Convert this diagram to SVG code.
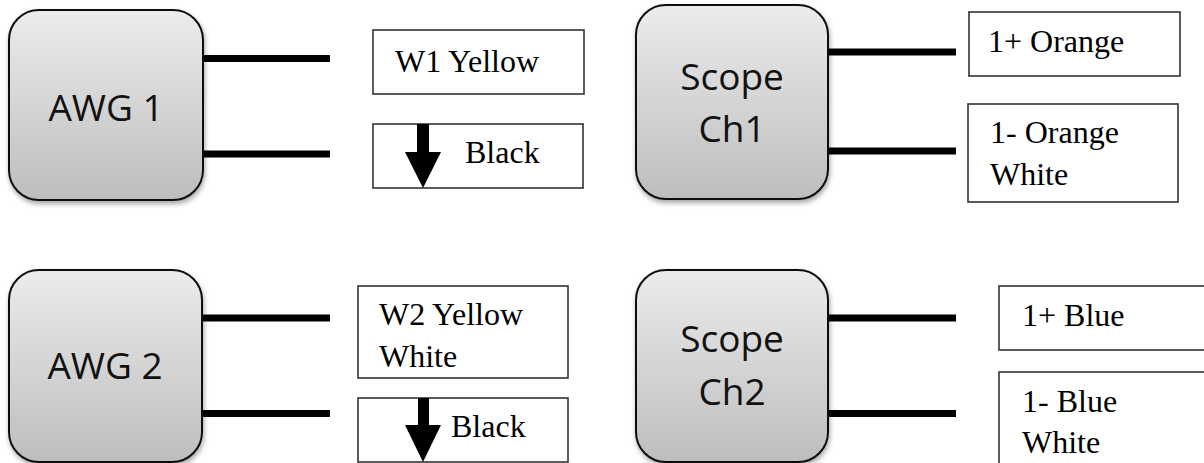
<svg xmlns="http://www.w3.org/2000/svg" width="1204" height="463" viewBox="0 0 1204 463">
<defs>
  <linearGradient id="g" x1="0" y1="0" x2="0" y2="1">
    <stop offset="0" stop-color="#ececec"/>
    <stop offset="1" stop-color="#bdbdbd"/>
  </linearGradient>
  <filter id="sh" x="-10%" y="-10%" width="125%" height="125%">
    <feDropShadow dx="1" dy="3" stdDeviation="2.5" flood-color="#000" flood-opacity="0.35"/>
  </filter>
</defs>
<style>
  .dev { fill: url(#g); stroke: #111; stroke-width: 2; filter: url(#sh); }
  .dl { font-family: "Open Sans", "Liberation Sans", sans-serif; font-size: 37px; fill: #111; text-anchor: middle; }
  .box { fill: #fff; stroke: #333; stroke-width: 1.6; }
  .bl { font-family: "Liberation Serif", serif; font-size: 32px; fill: #000; }
  .wire { stroke: #000; stroke-width: 7; fill: none; }
  .arr { fill: #000; }
</style>
<rect width="1204" height="463" fill="#fff"/>

<g id="connectors">
  <line class="wire" x1="203" y1="58.5" x2="330" y2="58.5"/>
  <line class="wire" x1="203" y1="154" x2="330" y2="154"/>
  <line class="wire" x1="202" y1="318" x2="330" y2="318"/>
  <line class="wire" x1="202" y1="413.5" x2="330" y2="413.5"/>
  <line class="wire" x1="828" y1="52" x2="956" y2="52"/>
  <line class="wire" x1="828" y1="151" x2="956" y2="151"/>
  <line class="wire" x1="828" y1="318" x2="956" y2="318"/>
  <line class="wire" x1="828" y1="413.5" x2="956" y2="413.5"/>
</g>

<g id="awg1">
  <rect class="dev" x="9" y="10" width="194" height="190" rx="30"/>
  <text class="dl" x="106" y="121">AWG 1</text>
</g>
<g id="awg2">
  <rect class="dev" x="9" y="270" width="193" height="192" rx="30"/>
  <text class="dl" x="105" y="379">AWG 2</text>
</g>
<g id="scope1">
  <rect class="dev" x="636" y="5" width="192" height="194" rx="30"/>
  <text class="dl" x="732" y="90">Scope</text>
  <text class="dl" x="732" y="142">Ch1</text>
</g>
<g id="scope2">
  <rect class="dev" x="636" y="270" width="192" height="192" rx="30"/>
  <text class="dl" x="732" y="352">Scope</text>
  <text class="dl" x="732" y="405">Ch2</text>
</g>

<g id="w1yellow">
  <rect class="box" x="373" y="30" width="211" height="64"/>
  <text class="bl" x="395" y="72">W1 Yellow</text>
</g>
<g id="black1">
  <rect class="box" x="373" y="124" width="210" height="64"/>
  <polygon class="arr" points="417,124 429,124 429,152 441,152 423,188 405,152 417,152"/>
  <text class="bl" x="465" y="163">Black</text>
</g>
<g id="w2yellow">
  <rect class="box" x="358" y="286" width="210" height="92"/>
  <text class="bl" x="379" y="325">W2 Yellow</text>
  <text class="bl" x="379" y="367">White</text>
</g>
<g id="black2">
  <rect class="box" x="358" y="398" width="210" height="64"/>
  <polygon class="arr" points="418,398 429,398 429,425 441,425 423,462 405,425 418,425"/>
  <text class="bl" x="451" y="437">Black</text>
</g>
<g id="orange-plus">
  <rect class="box" x="969" y="12" width="211" height="64"/>
  <text class="bl" x="988" y="52">1+ Orange</text>
</g>
<g id="orange-minus">
  <rect class="box" x="968" y="104" width="210" height="98"/>
  <text class="bl" x="990" y="143">1- Orange</text>
  <text class="bl" x="990" y="185">White</text>
</g>
<g id="blue-plus">
  <rect class="box" x="999" y="286" width="215" height="64"/>
  <text class="bl" x="1022" y="326">1+ Blue</text>
</g>
<g id="blue-minus">
  <rect class="box" x="999" y="372" width="215" height="100"/>
  <text class="bl" x="1022" y="412">1- Blue</text>
  <text class="bl" x="1022" y="453">White</text>
</g>
</svg>
